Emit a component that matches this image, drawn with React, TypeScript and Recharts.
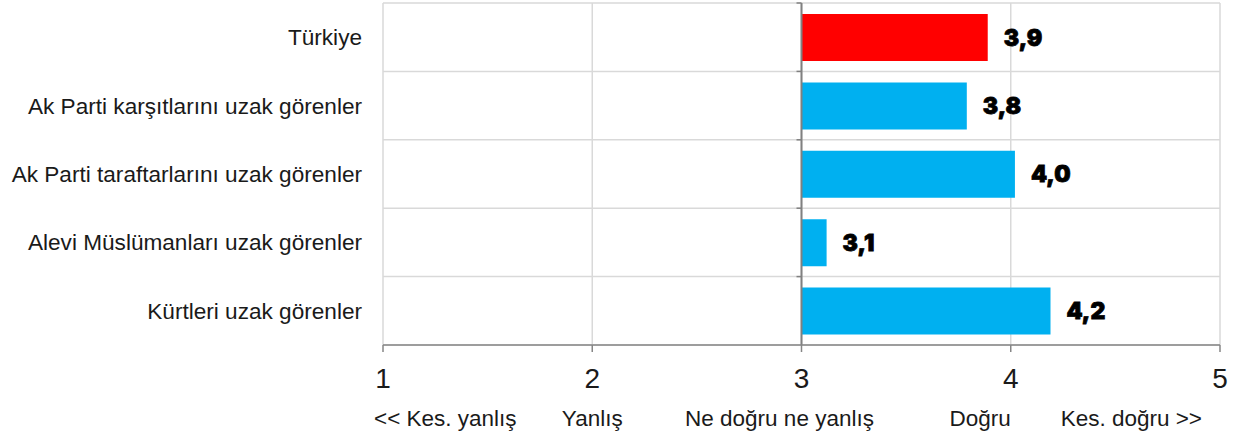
import React from 'react';
import {
  BarChart,
  Bar,
  XAxis,
  YAxis,
  CartesianGrid,
  ReferenceLine,
  LabelList,
  Cell,
} from 'recharts';

const categories = [
  'Türkiye',
  'Ak Parti karşıtlarını uzak görenler',
  'Ak Parti taraftarlarını uzak görenler',
  'Alevi Müslümanları uzak görenler',
  'Kürtleri uzak görenler',
];
const scores = [3.89, 3.79, 4.02, 3.12, 4.19];
const barColors = ['#ff0000', '#00b0f0', '#00b0f0', '#00b0f0', '#00b0f0'];
const scaleTicks = [1, 2, 3, 4, 5];
const scaleLabels = ['<< Kes. yanlış', 'Yanlış', 'Ne doğru ne yanlış', 'Doğru', 'Kes. doğru >>'];
const BASE = 3;

const data = categories.map((name, i) => ({ name, v: scores[i] }));

const fmt = (v: number) => v.toFixed(1).replace('.', ',');

const FONT = '"Liberation Sans", Arial, sans-serif';

// number under the tick, answer text in a second row (text boxes in the original sit a bit off-centre)
const ScaleTick = (props: any) => {
  const { x, y, payload } = props;
  const i = scaleTicks.indexOf(payload.value);
  const anchor = i === 0 ? 'start' : i >= 3 ? 'end' : 'middle';
  const dx = i === 0 ? -9 : i === 4 ? -18 : i === 2 ? -22 : 0;
  return (
    <g>
      <text x={x} y={y + 36} textAnchor="middle" fontFamily={FONT} fontSize={28} fill="#1a1a1a">
        {payload.value}
      </text>
      <text x={x + dx} y={y + 74} textAnchor={anchor} fontFamily={FONT} fontSize={22.5} fill="#1a1a1a">
        {scaleLabels[i]}
      </text>
    </g>
  );
};

// row separators: one at every category boundary of the plot area
const rowGridLines = ({ offset }: any) =>
  Array.from({ length: categories.length + 1 }, (_, r) => offset.top + (r * offset.height) / categories.length);

// the category axis crosses at 3, with small tick marks at each row boundary
const BaseAxis = (props: any) => {
  const { x1, y1, y2 } = props;
  const top = Math.min(y1, y2);
  const h = Math.abs(y2 - y1);
  return (
    <g>
      <line x1={x1} y1={top} x2={x1} y2={top + h} stroke="#808080" strokeWidth={2} />
      {Array.from({ length: categories.length }, (_, r) => (
        <line
          key={r}
          x1={x1 - 5}
          x2={x1}
          y1={top + (r * h) / categories.length}
          y2={top + (r * h) / categories.length}
          stroke="#808080"
          strokeWidth={1.5}
        />
      ))}
    </g>
  );
};

const App: React.FC = () => {
  return (
    <div style={{ position: 'absolute', left: 0, top: 0, width: 1240, height: 432, background: '#fff' }}>
      <BarChart
        width={1240}
        height={432}
        data={data}
        layout="vertical"
        margin={{ top: 3, right: 20, left: 0, bottom: 0 }}
      >
        <CartesianGrid
          stroke="#d9d9d9"
          strokeWidth={1.5}
          horizontalCoordinatesGenerator={rowGridLines}
        />
        <XAxis
          type="number"
          dataKey="v"
          domain={[1, 5]}
          ticks={scaleTicks}
          allowDataOverflow
          tickSize={7}
          tickMargin={0}
          axisLine={{ stroke: '#868686', strokeWidth: 1.5 }}
          tickLine={{ stroke: '#868686', strokeWidth: 1.5 }}
          tick={(p: any) => <ScaleTick {...p} />}
          height={87}
        />
        <YAxis
          type="category"
          dataKey="name"
          width={383}
          axisLine={false}
          tickLine={false}
          tickSize={0}
          tickMargin={21}
          tick={{ fontFamily: FONT, fontSize: 22.6, fill: '#1a1a1a' }}
        />
        <Bar dataKey={(d: any) => [BASE, d.v]} barSize={47} isAnimationActive={false}>
          {data.map((d, i) => (
            <Cell key={d.name} fill={barColors[i]} />
          ))}
          <LabelList
            dataKey="v"
            position="right"
            offset={16}
            formatter={(v: any) => fmt(Number(v))}
            style={{
              fontFamily: 'Inter, sans-serif',
              fontWeight: 900,
              fontSize: 23,
              fill: '#000',
              stroke: '#000',
              strokeWidth: 0.8,
            }}
          />
        </Bar>
        <ReferenceLine x={BASE} shape={(p: any) => <BaseAxis {...p} />} />
      </BarChart>
    </div>
  );
};

export default App;
